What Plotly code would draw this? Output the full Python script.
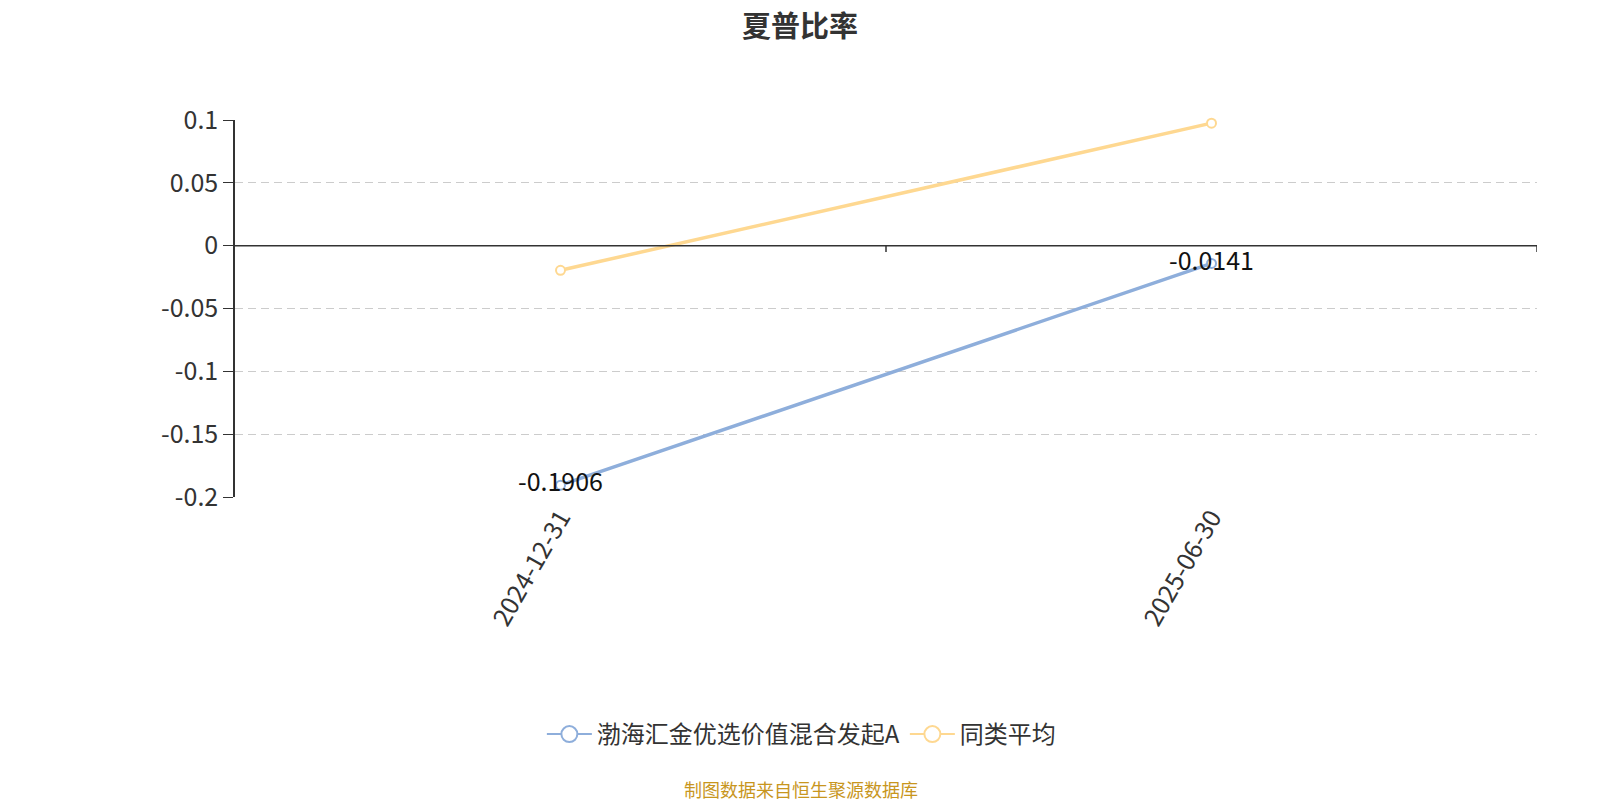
import plotly.graph_objects as go

# data
dates = ["2024-12-31", "2025-06-30"]
fund_name = "渤海汇金优选价值混合发起A"
fund_sharpe = [-0.1906, -0.0141]
avg_name = "同类平均"
avg_sharpe = [-0.0196, 0.0975]
y_ticks = [0.1, 0.05, 0, -0.05, -0.1, -0.15, -0.2]

FONT = "Noto Sans CJK SC, Microsoft YaHei, sans-serif"
BLUE = "#8eaedb"
YELLOW = "#fed891"
AXIS = "#333333"

fig = go.Figure()

for name, vals, color, labels in [(fund_name, fund_sharpe, BLUE, True),
                                  (avg_name, avg_sharpe, YELLOW, False)]:
    fig.add_trace(go.Scatter(
        x=dates, y=vals, name=name, mode="lines+markers+text" if labels else "lines+markers",
        line=dict(color=color, width=3.5),
        marker=dict(symbol="circle", size=9, color="white", line=dict(color=color, width=2)),
        text=[f"{v:.4f}" for v in vals] if labels else None,
        textposition="middle center",
        textfont=dict(size=25, color="#111111", family=FONT),
        cliponaxis=False, showlegend=False,
    ))
    # legend entry with a bigger symbol
    fig.add_trace(go.Scatter(
        x=[None], y=[None], name=name, mode="lines+markers",
        line=dict(color=color, width=2),
        marker=dict(symbol="circle", size=22, color="white", line=dict(color=color, width=2)),
    ))

# x axis sits on the zero line, ticks on category boundaries
fig.add_shape(type="line", xref="paper", yref="y", x0=0, x1=1, y0=0, y1=0,
              line=dict(color=AXIS, width=1.5), layer="above")
for b in [0.5, 1.5]:
    fig.add_shape(type="line", xref="x", yref="paper", x0=b, x1=b, y0=2 / 3, y1=2 / 3 - 0.017,
                  line=dict(color=AXIS, width=1.5))

fig.update_xaxes(
    type="category", range=[-0.5, 1.5], showgrid=False, showline=False,
    tickangle=-60, ticks="", tickfont=dict(size=25, color=AXIS, family=FONT),
    zeroline=False,
)
fig.update_yaxes(
    range=[-0.2, 0.1], tickvals=y_ticks, ticktext=[f"{v:g}" for v in y_ticks],
    showgrid=True, gridcolor="#cccccc", griddash="8px,5px", gridwidth=1.3,
    showline=True, linecolor=AXIS, linewidth=1.5, ticks="outside", ticklen=10,
    tickcolor=AXIS, zeroline=False,
    tickfont=dict(size=25, color=AXIS, family=FONT),
)

fig.update_layout(
    width=1600, height=800,
    plot_bgcolor="white", paper_bgcolor="white",
    margin=dict(l=227, r=71, t=112, b=311),
    title=dict(text="<b>夏普比率</b>", xref="container", x=0.495, xanchor="center",
               yref="container", y=0.976, yanchor="middle",
               font=dict(size=29, color=AXIS, family=FONT)),
    showlegend=True,
    legend=dict(orientation="h", x=0.435, xanchor="center", y=-0.63, yanchor="middle",
                font=dict(size=24, color=AXIS, family=FONT), itemwidth=45),
    font=dict(family=FONT),
)

fig.add_annotation(xref="paper", yref="paper", x=0.435, y=-0.774, yanchor="middle",
                   text="制图数据来自恒生聚源数据库", showarrow=False,
                   font=dict(size=18, color="#c8961e", family=FONT))

fig.write_html("out.html")
